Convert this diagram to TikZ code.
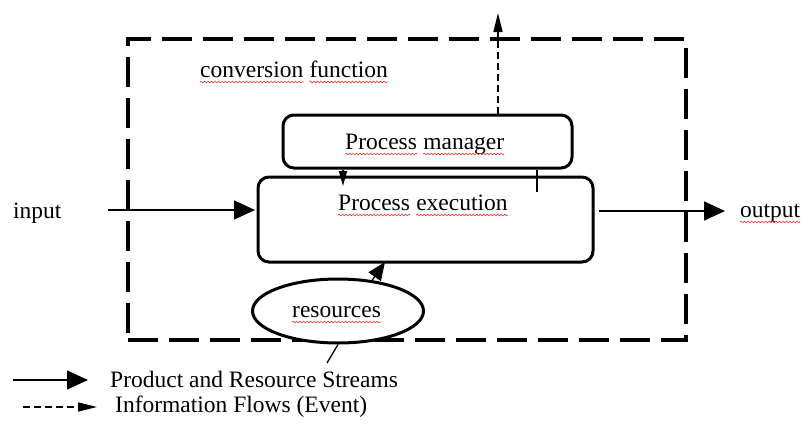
\documentclass[tikz,border=0pt]{standalone}
\usepackage{fontspec}
\setmainfont{Liberation Serif}
\usetikzlibrary{arrows.meta,decorations.pathmorphing,shapes.geometric}
\newcommand\squig[1]{\draw[sq] ([yshift=-5pt]#1.base west) -- ([yshift=-5pt]#1.base east);}
\begin{document}
\begin{tikzpicture}[x=1pt,y=-1pt,
  txt/.style={anchor=base west,inner sep=0pt,font=\fontsize{23.5}{28}\selectfont},
  boxn/.style={draw,line width=3pt,rounded corners=11pt,inner sep=0pt},
  frame/.style={draw,line width=3.5pt,dash pattern=on 30pt off 11pt,inner sep=0pt},
  flow/.style={line width=1.4pt,-{Triangle[length=21pt,width=19pt]}},
  info/.style={line width=1.4pt,dash pattern=on 7pt off 4pt,-{Triangle[length=19pt,width=9pt]}},
  thin/.style={line width=1.3pt},
  sq/.style={draw=red!75!white,line width=0.7pt,decorate,decoration={snake,amplitude=0.8pt,segment length=3.5pt}}
]
\useasboundingbox (0,0) rectangle (803,423);

% frame
\node[frame,minimum width=558pt,minimum height=301pt] (fr) at (407,189.5) {};

% boxes
\node[boxn,minimum width=289pt,minimum height=53pt] (pm) at (427.5,141.5) {};
\node[boxn,fill=white,minimum width=335pt,minimum height=85pt] (ex) at (425.5,219.5) {};
\node[draw,ellipse,fill=white,line width=3pt,minimum width=171pt,minimum height=64pt,inner sep=0pt] (res) at (338,311) {};

% texts
\node[txt] (cf1) at (200,77) {conversion};
\node[txt] (cf2) at ([xshift=5.9pt]cf1.base east) {function};
\node[txt] (pm1) at (345,149) {Process};
\node[txt] (pm2) at ([xshift=5.9pt]pm1.base east) {manager};
\node[txt] (ex1) at (338,210) {Process};
\node[txt] (ex2) at ([xshift=5.9pt]ex1.base east) {execution};
\node[txt] (rs) at (292,317) {resources};
\node[txt] (in) at (13,218) {input};
\node[txt] (out) at (740,217) {output};
\node[txt] (lg1) at (110,387) {Product and Resource Streams};
\node[txt] (lg2) at (115,412) {Information Flows (Event)};

\squig{cf1}\squig{cf2}\squig{pm1}\squig{pm2}\squig{ex1}\squig{ex2}\squig{rs}\squig{out}

% coordinates
\coordinate (inS) at (108,210);
\coordinate (outE) at (725,211);
\coordinate (i1) at (498,13);
\coordinate (a1) at (343,186);
\coordinate (l1) at (537,192);
\coordinate (r1) at (385,262);
\coordinate (sl) at (327,363);
\coordinate (g1a) at (13,380);
\coordinate (g1b) at (88,380);
\coordinate (g2a) at (23,407);
\coordinate (g2b) at (97,407);

% connectors
\draw[flow] (inS) -- ([xshift=-1.5pt]ex.west |- inS);
\draw[flow] ([xshift=4pt]ex.east |- outE) -- (outE);
\draw[info] (pm.north -| i1) -- (i1);
\draw[thin,-{Triangle[length=15pt,width=8pt]}] (pm.south -| a1) -- (a1);
\draw[thin] (pm.south -| l1) -- (l1);
\draw[thin,-{Triangle[length=18pt,width=15pt]}] (res.42) -- ([yshift=1.5pt]ex.south -| r1);
\draw[thin] (res.south) -- (sl);

% legend
\draw[flow] (g1a) -- (g1b);
\draw[info] (g2a) -- (g2b);
\end{tikzpicture}
\end{document}
